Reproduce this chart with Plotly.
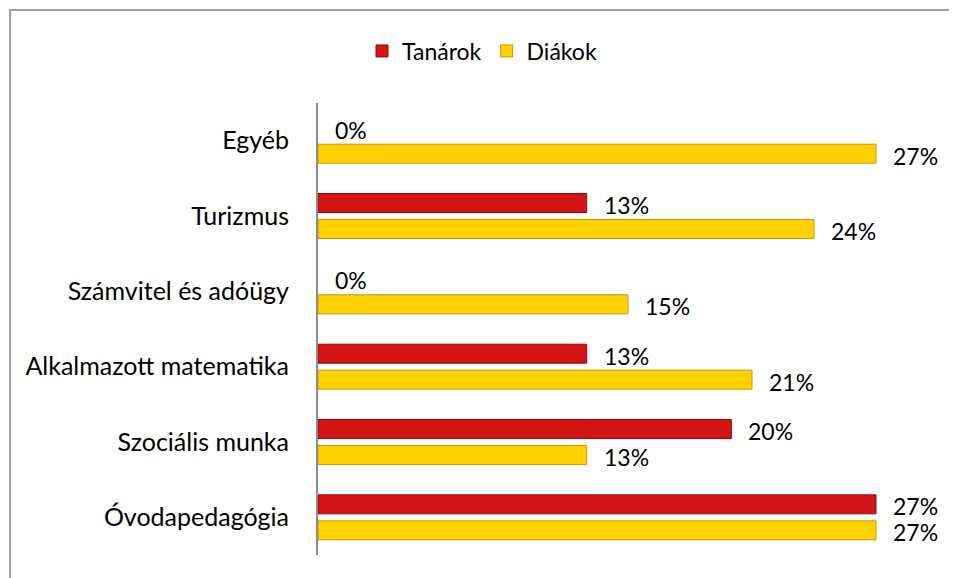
import plotly.graph_objects as go

categories = ["Óvodapedagógia", "Szociális munka", "Alkalmazott matematika",
              "Számvitel és adóügy", "Turizmus", "Egyéb"]
tanarok = [27, 20, 13, 0, 13, 0]
diakok = [27, 13, 21, 15, 24, 27]

FONT = "Lato, Carlito, Calibri, sans-serif"
RED = "#D41515"
RED_LINE = "#8E0A0A"
YEL = "#FFD200"
YEL_LINE = "#C99700"

# page body has an 8px margin; work in screen coords and subtract it
OFF = 8
W, H = 957 - OFF, 578 - OFF
L, R, T, B = 318 - OFF, 938 - OFF, 103 - OFF, 555 - OFF
px = lambda x: (x - OFF - L) / (R - L)
py = lambda y: (B - (y - OFF)) / (B - T)

fig = go.Figure()
fig.add_trace(go.Bar(
    name="Diákok", y=categories, x=diakok, orientation="h",
    marker=dict(color=YEL, line=dict(color=YEL_LINE, width=[1 if v > 0 else 0 for v in diakok])),
    legendrank=2, hoverinfo="skip"))
fig.add_trace(go.Bar(
    name="Tanárok", y=categories, x=tanarok, orientation="h",
    marker=dict(color=RED, line=dict(color=RED_LINE, width=[1 if v > 0 else 0 for v in tanarok])),
    legendrank=1, hoverinfo="skip"))

annotations = []
for cat, v in zip(categories, tanarok):
    annotations.append(dict(x=v, y=cat, text=f"{v}%", showarrow=False,
                            xanchor="left", xshift=15, yshift=11,
                            font=dict(family=FONT, size=23, color="#000")))
for cat, v in zip(categories, diakok):
    annotations.append(dict(x=v, y=cat, text=f"{v}%", showarrow=False,
                            xanchor="left", xshift=15, yshift=-15,
                            font=dict(family=FONT, size=23, color="#000")))

fig.update_layout(
    width=W, height=H,
    margin=dict(l=L, r=W - R, t=T, b=H - B, pad=0),
    paper_bgcolor="white", plot_bgcolor="white",
    barmode="group", bargap=0.31, bargroupgap=0.27,
    font=dict(family=FONT, size=23, color="#000"),
    showlegend=True,
    legend=dict(orientation="h", x=px(362), y=py(51), xanchor="left", yanchor="middle",
                font=dict(family=FONT, size=23, color="#000"), itemwidth=30, tracegroupgap=0),
    annotations=annotations,
    shapes=[dict(type="path", xref="paper", yref="paper",
                 path=f"M {px(10)} {py(700)} L {px(10)} {py(10)} L {px(1100)} {py(10)}",
                 line=dict(color="#A0A0A0", width=2))],
    xaxis=dict(range=[0, 30], showgrid=False, zeroline=False, showticklabels=False,
               showline=False, ticks=""),
    yaxis=dict(categoryorder="array", categoryarray=categories, showgrid=False,
               showline=True, linecolor="#8C8C8C", linewidth=2, ticks="",
               ticklabelstandoff=22, tickfont=dict(family=FONT, size=25)),
)

fig.write_html("out.html")
